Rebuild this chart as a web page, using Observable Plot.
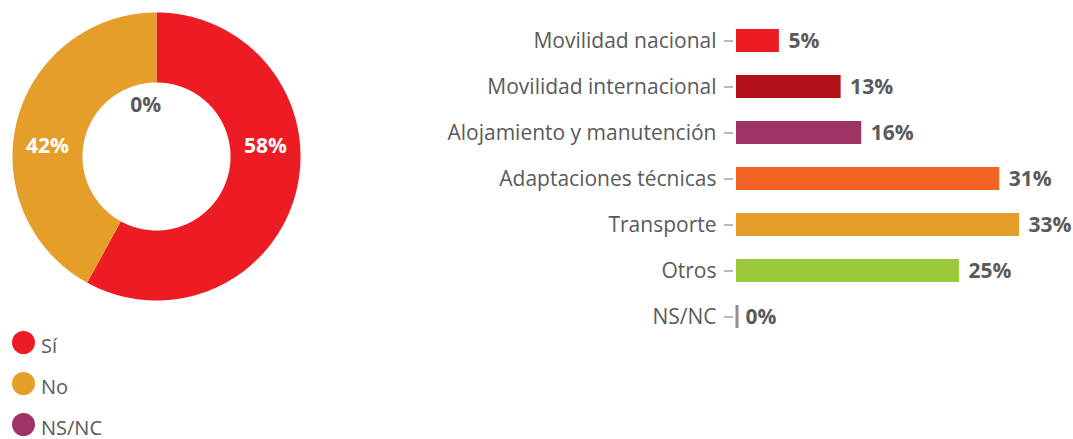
<!DOCTYPE html>
<html>
<head>
<meta charset="utf-8">
<script src="https://cdn.jsdelivr.net/npm/d3@7"></script>
<script src="https://cdn.jsdelivr.net/npm/@observablehq/plot@0.6"></script>
<style>
  body { margin: 0; background: #fff; font-family: "Open Sans", Lato, sans-serif; }
  #wrap { position: relative; width: 1073px; height: 439px; overflow: hidden; }
  #donut { position: absolute; left: 0; top: 0; }
  #bars { position: absolute; left: 420px; top: 0; }
  #legend { position: absolute; left: 0; top: 0; }
  .item { position: absolute; left: 12px; height: 23px; display: flex; align-items: center; font-size: 20px; line-height: 20px; color: #5a5a5a; }
  .sw { width: 23px; height: 23px; border-radius: 50%; margin-right: 6px; flex: none; }
  .tx { position: relative; top: 3px; }
</style>
</head>
<body>
<div id="wrap">
  <div id="donut"></div>
  <div id="bars"></div>
  <div id="legend"></div>
</div>
<script>
// ---- Donut data ----
const pieCategories = ["Sí", "No", "NS/NC"];
const pieValues = [58, 42, 0];
const pieColors = ["#ED1C24", "#E59E2A", "#9E3465"];

// ---- Bar data ----
const barCategories = ["Movilidad nacional", "Movilidad internacional", "Alojamiento y manutención", "Adaptaciones técnicas", "Transporte", "Otros", "NS/NC"];
const barValues = [5, 12.2, 14.6, 30.7, 33, 26, 0];
const barLabels = ["5%", "13%", "16%", "31%", "33%", "25%", "0%"];
const barColors = ["#ED1C24", "#B11116", "#9E3465", "#F26322", "#E59E2A", "#9BC93B", "#8E8E93"];

const textGrey = "#5a5a5a";
const FONT = "'Open Sans', Lato, sans-serif";

// ---- Donut (Plot.geo with identity projection) ----
const R_OUT = 144, R_IN = 74, SIZE = 312;
const total = d3.sum(pieValues);
const pie = d3.pie().sort(null).value(d => d.v)(pieCategories.map((c, i) => ({c, v: pieValues[i], color: pieColors[i]})));
const pt = (a, r) => [r * Math.sin(a), -r * Math.cos(a)];
const slices = pie.filter(s => s.data.v > 0).map(s => {
  const n = Math.max(2, Math.ceil((s.endAngle - s.startAngle) / 0.01));
  const outer = d3.range(n + 1).map(k => pt(s.startAngle + (s.endAngle - s.startAngle) * k / n, R_OUT));
  const inner = d3.range(n + 1).map(k => pt(s.endAngle - (s.endAngle - s.startAngle) * k / n, R_IN));
  const ring = outer.concat(inner);
  ring.push(ring[0]);
  return {type: "Feature", properties: {color: s.data.color}, geometry: {type: "Polygon", coordinates: [ring]}};
});
const pieLabels = pie.map(s => {
  const mid = (s.startAngle + s.endAngle) / 2;
  if (s.data.v > 0) {
    const side = Math.sin(mid) >= 0 ? 1 : -1;
    return {x: side * 109, y: -10, t: Math.round(s.data.v / total * 100) + "%", fill: "#fff"};
  }
  const [x, y] = pt(s.startAngle - 0.21, 52);
  return {x, y, t: "0%", fill: textGrey};
});

const donut = Plot.plot({
  width: SIZE, height: SIZE, margin: 0,
  style: {fontFamily: FONT, background: "transparent"},
  projection: {type: "identity", domain: {type: "MultiPoint", coordinates: [[-SIZE/2, -SIZE/2], [SIZE/2, SIZE/2]]}},
  marks: [
    Plot.geo(slices, {fill: d => d.properties.color, stroke: "none"}),
    Plot.text(pieLabels, {x: "x", y: "y", text: "t", fill: "fill", fontSize: 21, fontWeight: "bold"})
  ]
});
document.getElementById("donut").appendChild(donut);

// ---- Legend ----
const legendTops = [331, 372, 413];
const leg = document.getElementById("legend");
pieCategories.forEach((c, i) => {
  const it = document.createElement("div");
  it.className = "item";
  it.style.top = legendTops[i] + "px";
  const sw = document.createElement("span");
  sw.className = "sw";
  sw.style.background = pieColors[i];
  const tx = document.createElement("span");
  tx.className = "tx";
  tx.textContent = c;
  it.appendChild(sw); it.appendChild(tx);
  leg.appendChild(it);
});

// ---- Bars ----
const barData = barCategories.map((c, i) => ({c, v: barValues[i], label: barLabels[i], color: barColors[i]}));
const bars = Plot.plot({
  width: 653, height: 350,
  marginLeft: 316, marginRight: 54, marginTop: 17, marginBottom: 10,
  style: {fontFamily: FONT, background: "transparent", color: textGrey},
  x: {domain: [0, 33], axis: null},
  y: {domain: barCategories, paddingInner: 0.5, paddingOuter: 0.25, label: null},
  marks: [
    Plot.barX(barData.filter(d => d.v > 0), {x: "v", y: "c", fill: "color"}),
    Plot.tickX(barData.filter(d => d.v === 0), {x: 0, y: "c", stroke: "color", strokeWidth: 3, dx: 0.5}),
    Plot.text(barData, {x: "v", y: "c", text: "label", textAnchor: "start", fontSize: 21, fontWeight: "bold", fill: textGrey, dx: 9}),
    Plot.axisY({anchor: "left", tickSize: 9, tickPadding: 8, dx: -3, fontSize: 21, stroke: "#777", color: textGrey, label: null})
  ]
});
document.getElementById("bars").appendChild(bars);
</script>
</body>
</html>
